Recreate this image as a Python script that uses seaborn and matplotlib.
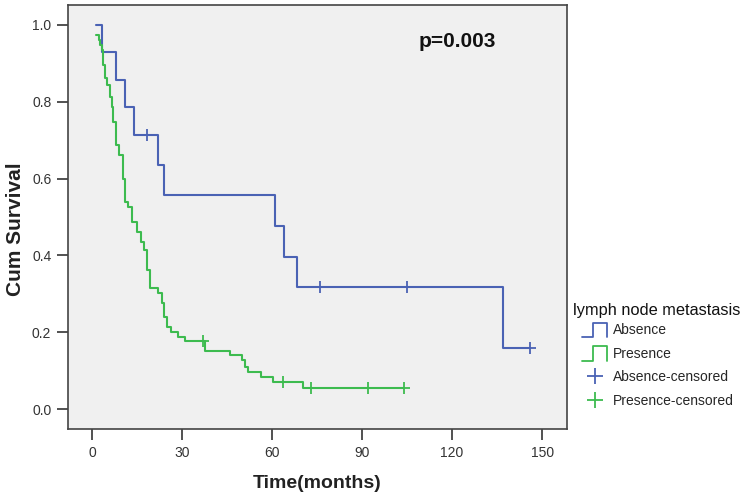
import matplotlib
matplotlib.use("Agg")
import matplotlib.pyplot as plt
import seaborn as sns
from matplotlib.legend_handler import HandlerBase
from matplotlib.lines import Line2D

##################
### CHART DATA ###
##################

# Absence of lymph node metastasis (step points: time, survival after the step)
absence_time = [1.3, 3.2, 8.0, 11.0, 14.0, 22.1, 24.1, 61.1, 64.1, 68.2, 137.1, 146.0]
absence_surv = [1.0, 0.929, 0.857, 0.786, 0.714, 0.635, 0.556, 0.476, 0.397, 0.317, 0.159, 0.159]
absence_cens_time = [18.2, 76.0, 105.0, 146.0]
absence_cens_surv = [0.714, 0.317, 0.317, 0.159]

# Presence of lymph node metastasis
presence_time = [1.4, 2.2, 2.8, 3.3, 3.8, 4.2, 5.0, 5.9, 6.7, 7.1, 8.0, 9.1, 10.2, 11.0,
                 12.1, 13.2, 15.1, 16.2, 17.3, 18.4, 19.3, 22.1, 23.2, 24.0, 24.9, 26.2,
                 28.8, 31.0, 37.5, 46.0, 49.9, 51.0, 52.0, 56.2, 60.2, 70.2, 104.0]
presence_surv = [0.973, 0.962, 0.947, 0.935, 0.895, 0.862, 0.845, 0.813, 0.787, 0.748, 0.688,
                 0.661, 0.600, 0.540, 0.527, 0.488, 0.462, 0.436, 0.414, 0.362, 0.314, 0.301,
                 0.275, 0.240, 0.214, 0.201, 0.188, 0.177, 0.152, 0.141, 0.128, 0.110, 0.097,
                 0.084, 0.071, 0.054, 0.054]
presence_cens_time = [37.1, 63.8, 73.1, 92.1, 104.0]
presence_cens_surv = [0.177, 0.071, 0.054, 0.054, 0.054]

group_labels = ["Absence", "Presence", "Absence-censored", "Presence-censored"]
legend_title = "lymph node metastasis"
x_ticks = [0, 30, 60, 90, 120, 150]
y_ticks = [0.0, 0.2, 0.4, 0.6, 0.8, 1.0]
p_text = "p=0.003"

BLUE = "#4a62b4"
GREEN = "#3dbb4f"
W, H = 745, 498


class StepHandler(HandlerBase):
    '''
    Draw the little step glyph SPSS uses for survival lines in the legend.
    '''
    def create_artists(self, legend, orig_handle, xdescent, ydescent,
                       width, height, fontsize, trans):
        x0, w = -xdescent, width
        lo, hi = -ydescent - 0.3 * height, -ydescent + 1.15 * height
        xs = [x0, x0 + 0.42 * w, x0 + 0.42 * w, x0 + w, x0 + w]
        ys = [lo, lo, hi, hi, lo]
        line = Line2D(xs, ys, color=orig_handle.get_color(), lw=1.3, transform=trans)
        return [line]


sns.set_style("ticks")
plt.rcParams['font.family'] = ['Liberation Sans', 'DejaVu Sans']

fig = plt.figure(figsize=(W / 100, H / 100), dpi=100)
ax = fig.add_axes([68 / W, 1 - 429 / H, (567 - 68) / W, (429 - 5) / H])
ax.set_facecolor("#f0f0f0")

sns.lineplot(x=absence_time, y=absence_surv, ax=ax, color=BLUE, lw=1.5,
             drawstyle="steps-post", estimator=None, sort=False)
sns.lineplot(x=presence_time, y=presence_surv, ax=ax, color=GREEN, lw=1.5,
             drawstyle="steps-post", estimator=None, sort=False)
sns.scatterplot(x=absence_cens_time, y=absence_cens_surv, ax=ax, color=BLUE,
                marker="+", s=70, linewidth=1.3, zorder=3)
sns.scatterplot(x=presence_cens_time, y=presence_cens_surv, ax=ax, color=GREEN,
                marker="+", s=70, linewidth=1.3, zorder=3)

ax.set_xlim(-8, 158.3)
ax.set_ylim(-0.052, 1.052)
ax.set_xticks(x_ticks)
ax.set_yticks(y_ticks)
ax.set_yticklabels([f"{v:.1f}" for v in y_ticks])
ax.tick_params(axis="both", direction="out", length=8, width=1.2, color="#333333",
               labelsize=10, labelcolor="#333333", pad=4)
for side in ["left", "bottom", "right", "top"]:
    ax.spines[side].set_visible(True)
    ax.spines[side].set_color("#444444")
    ax.spines[side].set_linewidth(1.2)

ax.set_xlabel("Time(months)", fontsize=14, fontweight="bold", color="#222222", labelpad=11)
ax.set_ylabel("Cum Survival", fontsize=15, fontweight="bold", color="#222222")
ax.yaxis.set_label_coords(-0.087, 0.472)
ax.text(108.7, 0.956, p_text, fontsize=15, fontweight="bold", color="#111111",
        ha="left", va="center")

handles = [Line2D([], [], color=BLUE), Line2D([], [], color=GREEN),
           Line2D([], [], color=BLUE, marker="+", ls="none", markersize=11, mew=1.3),
           Line2D([], [], color=GREEN, marker="+", ls="none", markersize=11, mew=1.3)]
fig.text(573 / W, 1 - 310 / H, legend_title, fontsize=11.8, color="#111111",
         ha="left", va="center")
fig.legend(handles, group_labels, loc="upper left",
           bbox_to_anchor=(582 / W, 1 - 323 / H), frameon=False,
           fontsize=10, handlelength=1.8, handletextpad=0.45,
           labelspacing=0.69, borderaxespad=0, borderpad=0,
           handler_map={handles[0]: StepHandler(), handles[1]: StepHandler()})

fig.savefig("out.png", dpi=100)
